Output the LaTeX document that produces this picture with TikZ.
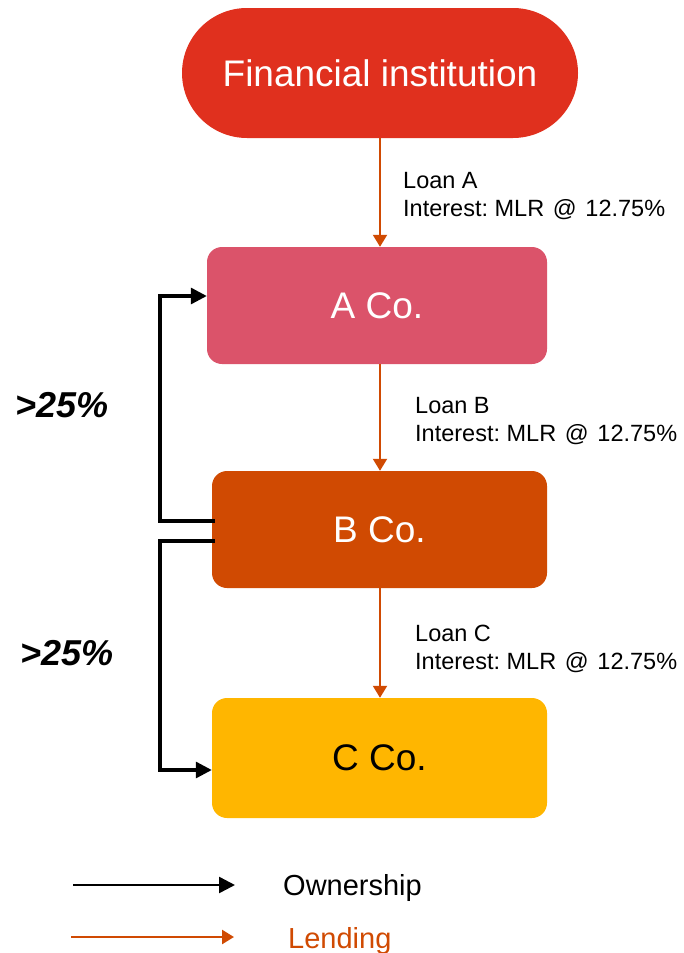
\documentclass[tikz,border=0pt]{standalone}
\usepackage{fontspec}
\setmainfont{Liberation Sans}
\usetikzlibrary{arrows.meta,calc}
\definecolor{finred}{HTML}{E0301E}
\definecolor{rose}{HTML}{DB536A}
\definecolor{tangerine}{HTML}{D04A02}
\definecolor{amber}{HTML}{FFB600}
\newcommand{\ratetext}{Interest: MLR\hspace{8.7pt}@\hspace{8.7pt}12.75\%}
\tikzset{
  entity/.style={rectangle, rounded corners=15pt, inner sep=0pt, text=white,
    font=\fontsize{37}{44}\selectfont},
  lend/.style={draw=tangerine, line width=2pt,
    -{Triangle[length=12pt,width=14pt]}},
  own/.style={draw=black, line width=3.2pt,
    -{Triangle[length=16pt,width=16pt]}},
  loanlabel/.style={align=left, inner sep=0pt, anchor=base west,
    font=\fontsize{23.5}{28}\selectfont\frenchspacing},
  pct/.style={inner sep=0pt, font=\fontsize{36}{40}\selectfont\bfseries\itshape},
  legendtext/.style={inner sep=0pt, anchor=west, font=\fontsize{29}{34}\selectfont}
}
\begin{document}
\begin{tikzpicture}[x=1pt,y=-1pt]
\useasboundingbox (0,0) rectangle (684,953);

% companies and lender
\node[entity, fill=finred, minimum width=396pt, minimum height=130pt,
  rounded corners=65pt] (fin) at (380,73) {Financial institution};
\node[entity, fill=rose, minimum width=340pt, minimum height=117pt] (aco) at (377,305.5) {A Co.};
\node[entity, fill=tangerine, minimum width=335pt, minimum height=117pt] (bco) at (379.5,529.5) {B Co.};
\node[entity, fill=amber, minimum width=335pt, minimum height=120pt, text=black] (cco) at (379.5,758) {C Co.};

% lending flows
\draw[lend] (fin.south) -- (fin.south |- aco.north);
\draw[lend] (380,364) coordinate (aB) -- (aB |- bco.north);
\draw[lend] (380,588) coordinate (bC) -- (bC |- cco.north);

% loan terms (anchored on the baseline of the second line)
\node[loanlabel] (la) at (403,216) {Loan A\\\ratetext};
\node[loanlabel] (lb) at (415,441) {Loan B\\\ratetext};
\node[loanlabel] (lc) at (415,669) {Loan C\\\ratetext};

% ownership links
\draw[own] ([shift={(3pt,8.5pt)}]bco.west) -| (160,400) |- ([yshift=9.5pt]aco.west);
\draw[own] ([shift={(3pt,-11.5pt)}]bco.west) -| (160,700) |- ([yshift=-12pt]cco.west);

\node[pct] (p1) at (62,405) {>25\%};
\node[pct] (p2) at (67,653) {>25\%};

% legend
\coordinate (o1) at (73,885);
\coordinate (o2) at (235,885);
\coordinate (l1) at (71,937);
\coordinate (l2) at (234,937);
\draw[own, line width=2.5pt] (o1) -- (o2);
\draw[lend, line width=2.5pt] (l1) -- (l2);
\node[legendtext] (ownt) at (283,888) {Ownership};
\node[legendtext, text=tangerine] (lendt) at (288,941) {Lending};
\end{tikzpicture}
\end{document}
